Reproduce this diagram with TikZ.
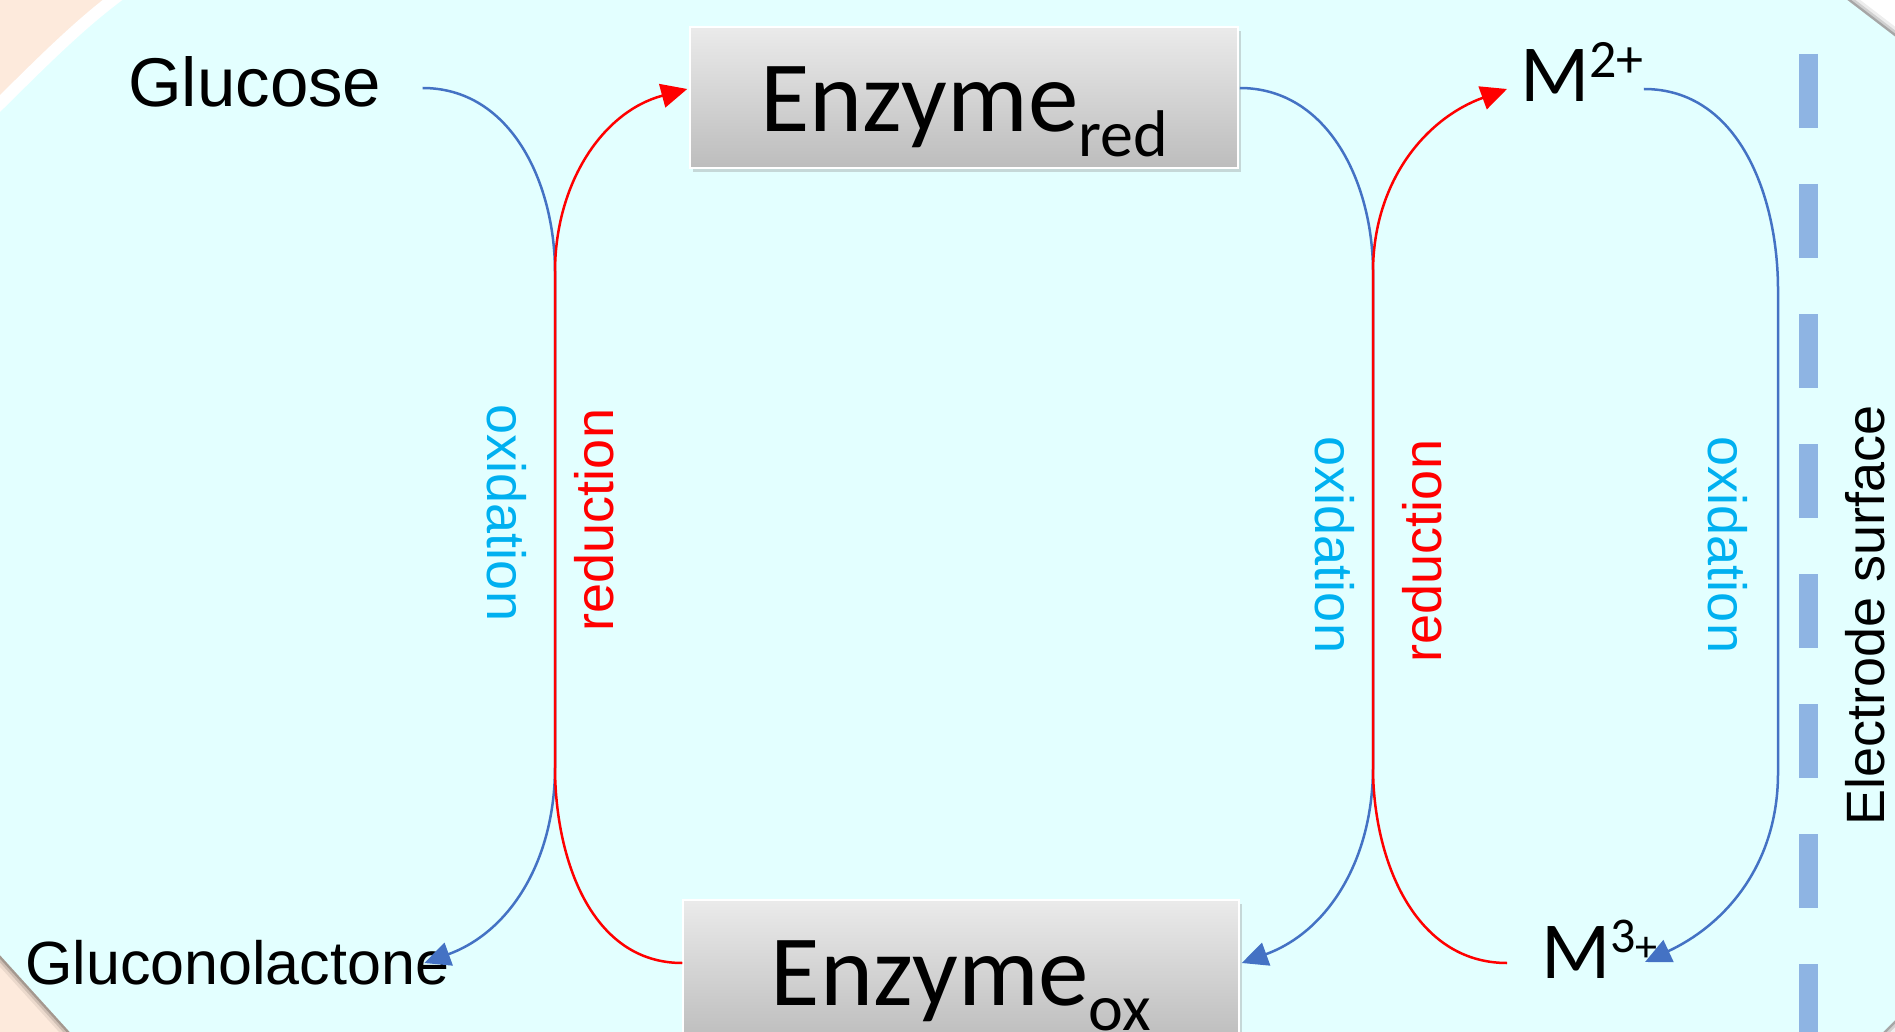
\documentclass[tikz,border=0pt]{standalone}
\usepackage{fontspec}
\setmainfont{Liberation Sans}
\newfontfamily\calib{Carlito}
\usetikzlibrary{arrows.meta,calc,shadows}

\definecolor{bgcyan}{RGB}{227,255,255}
\definecolor{bgpeach}{RGB}{253,234,220}
\definecolor{oxblue}{RGB}{68,114,196}
\definecolor{oxtext}{RGB}{0,176,240}
\definecolor{dashblue}{RGB}{142,180,227}

\tikzset{
	species/.style={inner sep=0pt, font=\fontsize{69}{76}\selectfont},
	ion/.style={inner sep=0pt, font=\calib\fontsize{81}{90}\selectfont},
	enzbox/.style={inner sep=0pt, draw=white, line width=1.5pt,
		top color=black!8, bottom color=black!26,
		drop shadow={shadow xshift=3pt, shadow yshift=-4pt, opacity=.3},
		text height=105pt, text depth=36pt, font=\calib\fontsize{101}{110}\selectfont},
	oxlabel/.style={inner sep=0pt, text=oxtext, rotate=-90, anchor=base, font=\fontsize{54}{60}\selectfont},
	redlabel/.style={inner sep=0pt, text=red, rotate=90, anchor=base, font=\fontsize{54}{60}\selectfont},
	oxline/.style={draw=oxblue, line width=2.5pt, -{Triangle[length=26pt,width=24pt]}},
	redline/.style={draw=red, line width=2.5pt, -{Triangle[length=26pt,width=24pt]}},
}

\begin{document}
\begin{tikzpicture}[x=1pt,y=1pt]

		%%Frame
		\useasboundingbox (0,0) rectangle (1895,-1032);
		\clip (0,0) rectangle (1895,-1032);
		\fill[white] (0,0) rectangle (1895,-1032);
		\fill[bgpeach] (0,0) -- (220,0) -- (0,-220) -- cycle;
		\fill[bgpeach] (0,-880) -- (0,-1032) -- (170,-1032) -- cycle;
		\fill[bgcyan,
			preaction={draw=black, opacity=.07, line width=16pt},
			preaction={draw=black, opacity=.12, line width=10pt},
			preaction={draw=black, opacity=.2, line width=5pt}]
			(-20,-131) .. controls (20,-90) and (90,-15) .. (150,20)
			-- (1821,20) -- (1915,-52) -- (1915,-1000) -- (1863,-1052)
			-- (88,-1052) -- (-20,-933) -- cycle;
		\draw[white, line width=12pt] (-20,-123) .. controls (25,-80) and (85,-15) .. (141,20);

		%%Electrode
		\draw[dashblue, line width=19pt, dash pattern=on 74pt off 56pt] (1808.5,-54) -- (1808.5,-1040);
		\node[inner sep=0pt, rotate=90, anchor=base, font=\fontsize{54}{60}\selectfont] (elec) at (1884,-615) {Electrode surface};

		%%Species
		\node[species, anchor=base west] (glu) at (128,-107) {Glucose};
		\node[species, anchor=base west, font=\fontsize{61}{68}\selectfont] (gluc) at (25,-984) {Gluconolactone};
		\node[enzbox, minimum width=548pt] (enzr) at (964,-97.5) {Enzyme\raisebox{-25pt}{\fontsize{66}{70}\selectfont red}};
		\node[enzbox, minimum width=556pt] (enzo) at (961,-970.5) {Enzyme\raisebox{-25pt}{\fontsize{66}{70}\selectfont ox}};
		\node[ion, anchor=base west] (m2) at (1520,-102) {M\raisebox{24pt}{\fontsize{54}{60}\selectfont 2+}};
		\node[ion, anchor=base west] (m3) at (1541,-978) {M\raisebox{26pt}{\fontsize{50}{56}\selectfont 3}\raisebox{17pt}{\fontsize{44}{50}\selectfont +}};

		%%Tracks
		\coordinate (lt) at (555,-272);
		\coordinate (lb) at (555,-767);
		\coordinate (mt) at (1373,-272);
		\coordinate (mb) at (1373,-767);
		\coordinate (rt) at (1778,-290);
		\coordinate (rb) at (1778,-773);

		%%Cycles
		\draw[oxline] ($(glu.base east)+(41,19)$) to[out=0,in=90] (lt) -- (lb) to[out=-90,in=20] ($(gluc.base east)+(-25,21)$);
		\draw[redline] ($(enzo.west)+(0,7.5)$) to[out=180,in=-90] (lb) -- (lt) to[out=90,in=195] ($(enzr.west)+(-2,8.5)$);
		\draw[oxline] ($(enzr.east)+(1,9.5)$) to[out=0,in=90] (mt) -- (mb) to[out=-90,in=20] ($(enzo.east)+(2,7.5)$);
		\draw[redline] ($(m3.base west)+(-34,15)$) to[out=180,in=-90] (mb) -- (mt) to[out=90,in=200] ($(m2.base west)+(-13,13)$);
		\draw[oxline] ($(m2.base east)+(0,13)$) to[out=0,in=90] (rt) -- (rb) to[out=-90,in=25] ($(m3.base west)+(104,16)$);

		%%Labels
		\node[oxlabel] (ox1) at (487,-513) {oxidation};
		\node[redlabel] (red1) at (613,-520) {reduction};
		\node[oxlabel] (ox2) at (1315,-545) {oxidation};
		\node[redlabel] (red2) at (1441,-551) {reduction};
		\node[oxlabel] (ox3) at (1708,-545) {oxidation};

\end{tikzpicture}
\end{document}
